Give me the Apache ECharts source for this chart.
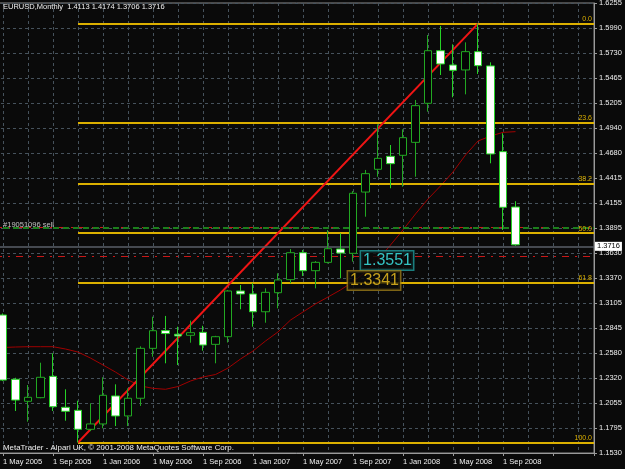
<!DOCTYPE html>
<html><head><meta charset="utf-8">
<script src="https://cdn.jsdelivr.net/npm/echarts@6/dist/echarts.min.js"></script>
<style>html,body{margin:0;padding:0;background:#0a0a0a;}#c{width:625px;height:469px;}</style>
</head><body><div id="c"></div>
<script>
// ---- data ----
const months = ['May 2005','Jun 2005','Jul 2005','Aug 2005','Sep 2005','Oct 2005','Nov 2005','Dec 2005',
  'Jan 2006','Feb 2006','Mar 2006','Apr 2006','May 2006','Jun 2006','Jul 2006','Aug 2006','Sep 2006','Oct 2006','Nov 2006','Dec 2006',
  'Jan 2007','Feb 2007','Mar 2007','Apr 2007','May 2007','Jun 2007','Jul 2007','Aug 2007','Sep 2007','Oct 2007','Nov 2007','Dec 2007',
  'Jan 2008','Feb 2008','Mar 2008','Apr 2008','May 2008','Jun 2008','Jul 2008','Aug 2008','Sep 2008','Oct 2008'];
const openP  = [1.2979,1.2304,1.2073,1.2111,1.2335,1.2010,1.1978,1.1779,1.1835,1.2129,1.1919,1.2105,1.2629,1.2815,1.2777,1.2766,1.2797,1.2671,1.2751,1.3231,1.3200,1.3013,1.3213,1.3350,1.3633,1.3444,1.3532,1.3672,1.3627,1.4270,1.4509,1.4645,1.4656,1.4792,1.5202,1.5754,1.5604,1.5552,1.5744,1.5594,1.4694,1.4113];
const highP  = [1.2995,1.2320,1.2244,1.2478,1.2577,1.2199,1.2079,1.2052,1.2325,1.2251,1.2209,1.2650,1.2961,1.2969,1.2856,1.2920,1.2866,1.2760,1.3240,1.3294,1.3312,1.3259,1.3417,1.3672,1.3662,1.3545,1.3872,1.3837,1.4280,1.4502,1.4981,1.4764,1.4929,1.5237,1.5919,1.6014,1.5821,1.5842,1.6038,1.5632,1.4887,1.4174];
const lowP   = [1.2285,1.1971,1.1859,1.2105,1.1971,1.1869,1.1640,1.1760,1.1789,1.1813,1.1813,1.2024,1.2541,1.2472,1.2454,1.2688,1.2604,1.2472,1.2690,1.3039,1.2856,1.2898,1.3049,1.3312,1.3389,1.3259,1.3520,1.3364,1.3539,1.4011,1.4431,1.4310,1.4326,1.4431,1.5114,1.5499,1.5265,1.5296,1.5510,1.4572,1.3872,1.3706];
const closeP = [1.2296,1.2086,1.2115,1.2325,1.2016,1.1968,1.1779,1.1835,1.2136,1.1919,1.2105,1.2629,1.2814,1.2784,1.2759,1.2793,1.2664,1.2751,1.3231,1.3200,1.3013,1.3217,1.3347,1.3633,1.3444,1.3532,1.3675,1.3630,1.4257,1.4463,1.4624,1.4568,1.4841,1.5177,1.5754,1.5615,1.5548,1.5744,1.5597,1.4670,1.4110,1.3716];
const maValues = [1.2638,1.2643,1.2646,1.2646,1.2646,1.2622,1.2590,1.2527,1.2454,1.2380,1.2297,1.2234,1.2209,1.2199,1.2228,1.2286,1.2328,1.2354,1.2422,1.2517,1.2601,1.2706,1.2801,1.2926,1.3011,1.3095,1.3168,1.3242,1.3326,1.3431,1.3557,1.3714,1.3872,1.4040,1.4197,1.4334,1.4481,1.4659,1.4806,1.4858,1.4897,1.4904];
const xTickLabels = ['1 May 2005','1 Sep 2005','1 Jan 2006','1 May 2006','1 Sep 2006','1 Jan 2007','1 May 2007','1 Sep 2007','1 Jan 2008','1 May 2008','1 Sep 2008'];
const priceTickLabels = ['1.1530','1.1795','1.2055','1.2320','1.2580','1.2845','1.3105','1.3370','1.3630','1.3895','1.4155','1.4415','1.4680','1.4940','1.5205','1.5465','1.5730','1.5990','1.6255'];
const fibNames  = ['0.0','23.6','38.2','50.0','61.8','100.0'];
const fibPrices = [1.6038,1.4998,1.4358,1.3839,1.3320,1.1640];
const fibStartIdx = 6, trendEndIdx = 38;
const orderLabel = '#19051096 sell';
const orderPrices = {sell:1.3908, open:1.3866, stop:1.3551};
const priceLabels = [{idx:28, price:1.3551, text:'1.3551'}, {idx:27, price:1.3341, text:'1.3341'}];
const symbolName = 'EURUSD,Monthly';
const copyright = 'MetaTrader - Alpari UK, \u00a9 2001-2008 MetaQuotes Software Corp.';

// ---- chart ----
const FONT = 'Liberation Sans';
const last = months.length - 1;
const XMIN = -4, XMAX = 47.28;
const candles = months.map((m,i)=>[i, openP[i], closeP[i], lowP[i], highP[i]]);
const gold = '#dcb000';

const markLines = [];
fibPrices.forEach((p,i)=>{
  markLines.push([{coord:[fibStartIdx,p], lineStyle:{color:gold,width:2,type:'solid'},
    label:{show:true,position:'insideEndTop',formatter:fibNames[i],color:gold,fontSize:7,fontFamily:FONT,distance:[2,1]}},
    {coord:[XMAX,p]}]);
});
markLines.push([{coord:[fibStartIdx,fibPrices[5]], lineStyle:{color:'#f01414',width:2,type:'solid'}, label:{show:false}},
  {coord:[trendEndIdx,fibPrices[0]]}]);
markLines.push({yAxis:orderPrices.sell, lineStyle:{color:'#c81818',width:1.2,type:[7,6,2,6]}, label:{show:false}});
markLines.push({yAxis:orderPrices.open, lineStyle:{color:'#1c7e1c',width:2,type:[6,4]}, label:{show:false}});
markLines.push({yAxis:orderPrices.stop, lineStyle:{color:'#c81818',width:1.2,type:[7,6,2,6]}, label:{show:false}});
markLines.push({yAxis:closeP[last], lineStyle:{color:'#5a5f68',width:1.5,type:'solid'},
  label:{show:true,position:'end',formatter:closeP[last].toFixed(4),backgroundColor:'#ffffff',color:'#000',
    padding:[1,2,0,2],fontSize:7.5,fontFamily:FONT,distance:1}});

const annData = [
  {value:[0, orderPrices.sell+0.0017], label:{show:true,position:'right',distance:0,formatter:orderLabel,color:'#e8e8e8',fontSize:7.5,fontFamily:FONT}},
  {value:[priceLabels[0].idx, priceLabels[0].price], label:{show:true,position:'right',distance:8,formatter:priceLabels[0].text,
    color:'#3ff0f0',fontSize:16,fontFamily:FONT,borderColor:'#1e9a9a',borderWidth:1.5,backgroundColor:'#0a0a0a',padding:[2,1,0,2]}},
  {value:[priceLabels[1].idx, priceLabels[1].price], label:{show:true,position:'right',distance:7.5,formatter:priceLabels[1].text,
    color:'#f2c420',fontSize:16,fontFamily:FONT,borderColor:'#9a7a18',borderWidth:1.5,backgroundColor:'#0a0a0a',padding:[2,1,0,2]}}
];

const chart = echarts.init(document.getElementById('c'), null, {renderer:'canvas'});
chart.setOption({
  backgroundColor:'#0a0a0a',
  animation:false,
  title:[
    {text:symbolName+'  '+[openP[last],highP[last],lowP[last],closeP[last]].map(v=>v.toFixed(4)).join(' '),
     left:3, top:3, padding:0, textStyle:{color:'#f0f0f0',fontSize:7.5,fontWeight:'normal',fontFamily:FONT}},
    {text:copyright, left:3, top:444, padding:0, textStyle:{color:'#f0f0f0',fontSize:7.9,fontWeight:'normal',fontFamily:FONT}}
  ],
  grid:{left:-47, right:31, top:3, bottom:16, outerBoundsMode:'none', containLabel:false,
        show:true, borderColor:'#8a8a8a', borderWidth:1, backgroundColor:'transparent'},
  xAxis:[
    {type:'value', min:XMIN, max:XMAX, interval:4, position:'bottom',
     axisLine:{show:true,onZero:false,lineStyle:{color:'#9a9a9a'}}, axisTick:{show:true,length:3,lineStyle:{color:'#9a9a9a'}},
     axisLabel:{show:true,align:'left',margin:5,color:'#f0f0f0',fontSize:7.5,fontFamily:FONT,
       formatter:v=>{const k=Math.round(v); return (Math.abs(v-k)<1e-6 && k>=0 && k%4===0 && k/4<xTickLabels.length)?xTickLabels[k/4]:'';}},
     splitLine:{show:false}},
    {type:'value', min:XMIN, max:XMAX, interval:2, position:'top',
     axisLine:{show:false,onZero:false}, axisTick:{show:false}, axisLabel:{show:false},
     splitLine:{show:true,lineStyle:{color:'#46525c',type:[3,3],width:1}}}
  ],
  yAxis:[
    {type:'value', min:1.153, max:1.6255, show:false, position:'left', axisLine:{show:false,onZero:false}, splitLine:{show:false}},
    {type:'value', min:0, max:18, interval:1, position:'right',
     axisLine:{show:true,onZero:false,lineStyle:{color:'#9a9a9a'}}, axisTick:{show:true,length:3,lineStyle:{color:'#9a9a9a'}},
     axisLabel:{show:true,margin:5,color:'#f0f0f0',fontSize:7.5,fontFamily:FONT,formatter:v=>priceTickLabels[Math.round(v)]||''},
     splitLine:{show:true,lineStyle:{color:'#46525c',type:[3,3],width:1}}}
  ],
  series:[
    {type:'line', name:'MA', xAxisIndex:0, yAxisIndex:0, data:months.map((m,i)=>[i,maValues[i]]),
     symbol:'none', lineStyle:{color:'#a00000',width:1}, z:1},
    {type:'candlestick', name:'EURUSD', xAxisIndex:0, yAxisIndex:0, encode:{x:0,y:[1,2,3,4]}, data:candles,
     barWidth:8, z:3,
     itemStyle:{color:'#050505', color0:'#ffffff', borderColor:'#22a822', borderColor0:'#26d226', borderWidth:1},
     markLine:{symbol:['none','none'], silent:true, animation:false, data:markLines, z:2}},
    {type:'scatter', name:'labels', xAxisIndex:0, yAxisIndex:0, symbolSize:0.1, itemStyle:{color:'transparent'},
     data:annData, z:5}
  ]
});
</script></body></html>
